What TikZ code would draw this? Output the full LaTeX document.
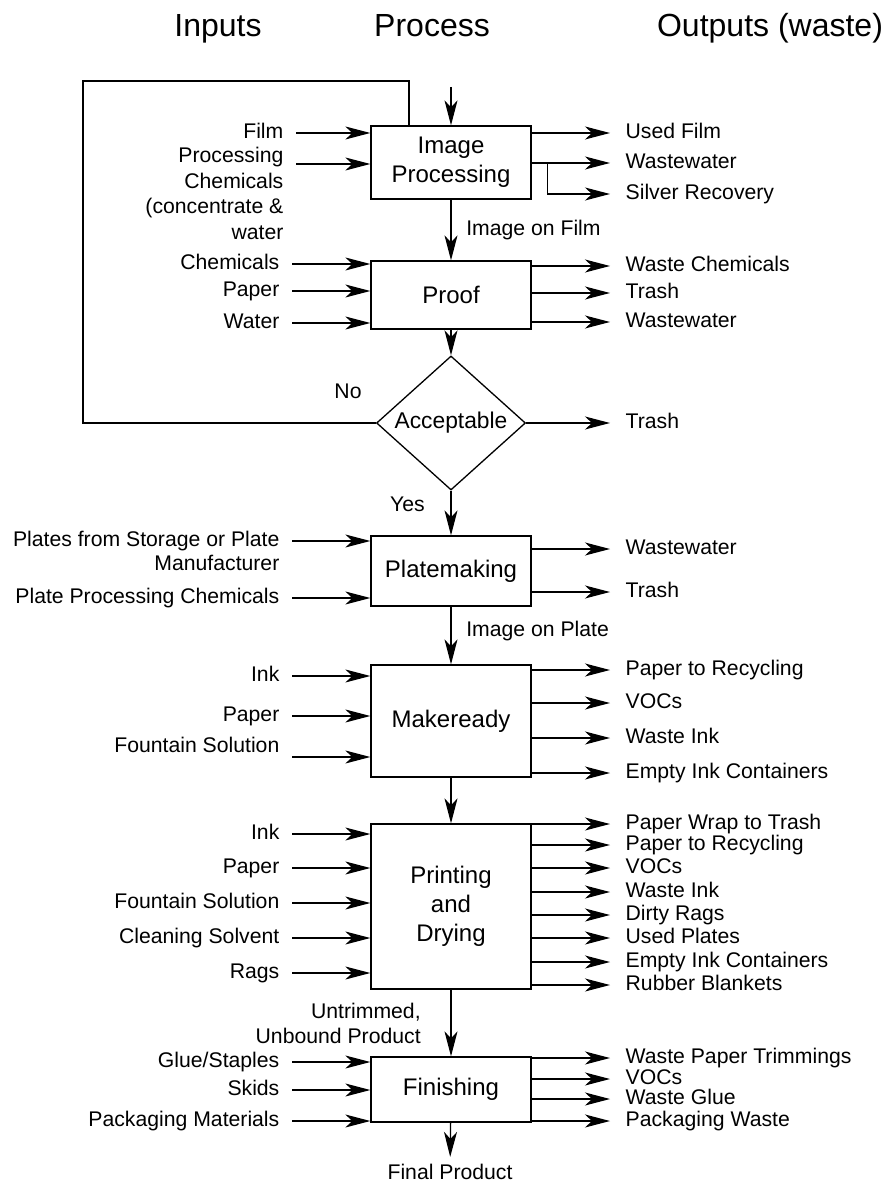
\documentclass[tikz,border=0pt]{standalone}
\usepackage{fontspec}
\setmainfont{Liberation Sans}
\usetikzlibrary{arrows.meta,shapes.geometric}
\tikzstyle{process}=[draw, align=center, minimum width=80pt, inner sep=0pt, font=\fontsize{12pt}{14.5pt}\selectfont]
\tikzstyle{decision}=[draw, diamond, minimum width=74.5pt, minimum height=54.5pt, inner sep=0pt, font=\fontsize{11.4pt}{13pt}\selectfont]
\tikzstyle{input}=[anchor=east, inner xsep=6pt, inner ysep=0pt, text height=7.5pt, text depth=2pt]
\tikzstyle{output}=[anchor=west, inner xsep=7.5pt, inner ysep=0pt, text height=7.5pt, text depth=2pt]
\tikzstyle{heading}=[anchor=base, font=\fontsize{16pt}{19pt}\selectfont]

\begin{document}
\begin{tikzpicture}[x=0.5pt, y=-0.5pt, line width=0.65pt, font=\fontsize{10.6pt}{12.5pt}\selectfont, >={Stealth[length=12.5pt, width=6.5pt, inset=3.5pt]}]
\useasboundingbox (0, 0) rectangle (886, 1186);
\node[heading] at (218, 37) (tin) {Inputs};
\node[heading] at (432, 37) (tpr) {Process};
\node[heading] at (770, 37) (tout) {Outputs (waste)};

\node[process, minimum height=36.5pt] at (451, 162.5) (ip) {Image\\Processing};
\node[process, minimum height=34pt] at (451, 295) (pf) {Proof};
\node[decision] at (451, 423) (acc) {Acceptable};
\node[process, minimum height=35pt] at (451, 571) (pm) {Platemaking};
\node[process, minimum height=56pt] at (451, 721) (mr) {Makeready};
\node[process, minimum height=82.5pt] at (451, 906.5) (pd) {Printing\\and\\Drying};
\node[process, minimum height=32.5pt] at (451, 1089.5) (fn) {Finishing};
\node at (450, 1172) (fp) {Final Product};

\coordinate (top) at (451, 87);
\coordinate (loop) at (83, 81);
\draw[->] (top) -- (ip);
\draw[->] (ip) -- node[right=4pt] (lfilm) {Image on Film} (pf);
\draw[->] (pf) -- (acc);
\draw[->] (acc) -- node[left=9.5pt, pos=0.3] (lyes) {Yes} (pm);
\draw[->] (pm) -- node[right=4pt, pos=0.42] (lplate) {Image on Plate} (mr);
\draw[->] (mr) -- (pd);
\draw[->] (pd) -- node[left=11.5pt, align=right] (lunb) {Untrimmed,\\Unbound Product} (fn);
\draw[->] (fn) -- (fp);
\draw (acc.west) -| (loop) -| ([xshift=-21pt]ip.north);
\node at (348, 391) (lno) {No};

% inputs
\node[input] at (296, 133) (ifilm) {Film};
\node[input] at (296, 157) (ichem1) {Processing};
\node[input] at (296, 183) (ichem2) {Chemicals};
\node[input] at (296, 208) (ichem3) {(concentrate \&};
\node[input] at (296, 234) (ichem4) {water};
\draw[->] (ifilm) -- (ifilm -| ip.west);
\draw[->] ([yshift=-3.5pt]ichem1.east) -- ([yshift=-3.5pt]ichem1.east -| ip.west);

\node[input] at (292, 264) (pchem) {Chemicals};
\node[input] at (292, 291) (ppaper) {Paper};
\node[input] at (292, 323) (pwater) {Water};
\foreach \n in {pchem, ppaper, pwater}
  \draw[->] (\n) -- (\n -| pf.west);

\node[input] at (292, 541) (mplate1) {Plates from Storage or Plate};
\node[input] at (292, 565) (mplate2) {Manufacturer};
\node[input] at (292, 598) (mchem) {Plate Processing Chemicals};
\draw[->] (mplate1) -- (mplate1 -| pm.west);
\draw[->] (mchem) -- (mchem -| pm.west);

\node[input] at (292, 676) (rink) {Ink};
\node[input] at (292, 716) (rpaper) {Paper};
\node[input] at (292, 747) (rfount) {Fountain Solution};
\draw[->] (rink) -- (rink -| mr.west);
\draw[->] (rpaper) -- (rpaper -| mr.west);
\draw[->] ([yshift=-5pt]rfount.east) -- ([yshift=-5pt]rfount.east -| mr.west);

\node[input] at (292, 834) (dink) {Ink};
\node[input] at (292, 868) (dpaper) {Paper};
\node[input] at (292, 903) (dfount) {Fountain Solution};
\node[input] at (292, 938) (dsolv) {Cleaning Solvent};
\node[input] at (292, 973) (drags) {Rags};
\foreach \n in {dink, dpaper, dfount, dsolv, drags}
  \draw[->] (\n) -- (\n -| pd.west);

\node[input] at (292, 1062) (fglue) {Glue/Staples};
\node[input] at (292, 1090) (fskid) {Skids};
\node[input] at (292, 1121) (fpack) {Packaging Materials};
\foreach \n in {fglue, fskid, fpack}
  \draw[->] (\n) -- (\n -| fn.west);

% outputs
\node[output] at (610, 133) (ofilm) {Used Film};
\node[output] at (610, 163) (owater) {Wastewater};
\node[output] at (610, 194) (osilver) {Silver Recovery};
\draw[->] (ofilm -| ip.east) -- (ofilm);
\draw[->] (owater -| ip.east) -- (owater);
\path (owater -| ip.east) ++(16, 0) coordinate (branch);
\draw[->] (branch) |- (osilver);

\node[output] at (610, 266) (qchem) {Waste Chemicals};
\node[output] at (610, 293) (qtrash) {Trash};
\node[output] at (610, 322) (qwater) {Wastewater};
\foreach \n in {qchem, qtrash, qwater}
  \draw[->] (\n -| pf.east) -- (\n);

\node[output] at (610, 423) (atrash) {Trash};
\draw[->] (acc.east) -- (atrash);

\node[output] at (610, 549) (mwater) {Wastewater};
\node[output] at (610, 592) (mtrash) {Trash};
\foreach \n in {mwater, mtrash}
  \draw[->] (\n -| pm.east) -- (\n);

\node[output] at (610, 670) (rrec) {Paper to Recycling};
\node[output] at (610, 703) (rvoc) {VOCs};
\node[output] at (610, 738) (rwink) {Waste Ink};
\node[output] at (610, 773) (rcont) {Empty Ink Containers};
\foreach \n in {rrec, rvoc, rwink, rcont}
  \draw[->] (\n -| mr.east) -- (\n);

\node[output] at (610, 824) (dwrap) {Paper Wrap to Trash};
\node[output] at (610, 845) (drec) {Paper to Recycling};
\node[output] at (610, 868) (dvoc) {VOCs};
\node[output] at (610, 892) (dwink) {Waste Ink};
\node[output] at (610, 915) (ddirty) {Dirty Rags};
\node[output] at (610, 938) (dplates) {Used Plates};
\node[output] at (610, 962) (dcont) {Empty Ink Containers};
\node[output] at (610, 985) (dblank) {Rubber Blankets};
\foreach \n in {dwrap, drec, dvoc, dwink, ddirty, dplates, dcont, dblank}
  \draw[->] (\n -| pd.east) -- (\n);

\node[output] at (610, 1058) (ftrim) {Waste Paper Trimmings};
\node[output] at (610, 1079) (fvoc) {VOCs};
\node[output] at (610, 1099) (fwglue) {Waste Glue};
\node[output] at (610, 1121) (fwpack) {Packaging Waste};
\foreach \n in {ftrim, fvoc, fwglue, fwpack}
  \draw[->] (\n -| fn.east) -- (\n);
\end{tikzpicture}
\end{document}
